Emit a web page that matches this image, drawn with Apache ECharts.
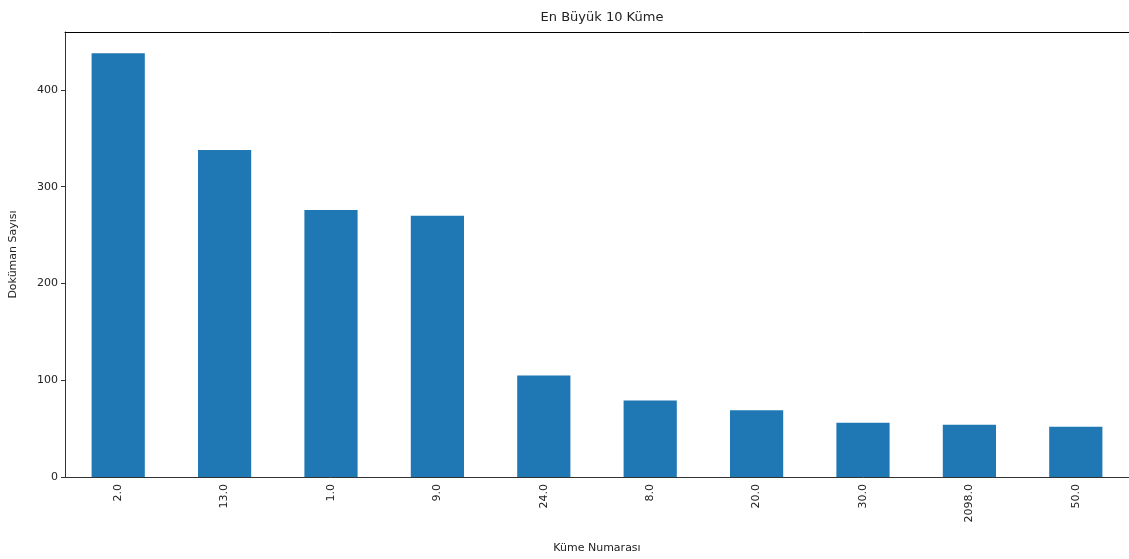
<!DOCTYPE html>
<html>
<head>
<meta charset="utf-8">
<script src="https://cdn.jsdelivr.net/npm/echarts@6/dist/echarts.min.js"></script>
<style>
  html, body { margin: 0; padding: 0; background: #fff; }
  #chart { width: 1129px; height: 559px; }
</style>
</head>
<body>
<div id="chart"></div>
<script>
// küme numaraları ve doküman sayıları
const kumeler = ['2.0', '13.0', '1.0', '9.0', '24.0', '8.0', '20.0', '30.0', '2098.0', '50.0']
const dokumanSayisi = [438, 338, 276, 270, 105, 79, 69, 56, 54, 52]
const yTicks = [0, 100, 200, 300, 400]

let chart = echarts.init(document.getElementById('chart'))
let option = {
    animation: false,
    textStyle: { fontFamily: 'DejaVu Sans' },
    title: {
        text: 'En Büyük 10 Küme',
        left: 597,
        textAlign: 'center',
        top: 6,
        textStyle: { fontSize: 13, fontWeight: 'normal', color: '#222' }
    },
    grid: {
        left: 63,
        top: 32,
        width: 1068,
        height: 450
    },
    xAxis: [
        {
            type: 'category',
            data: kumeler,
            name: 'Küme Numarası',
            nameLocation: 'middle',
            nameGap: 66,
            nameTextStyle: { fontSize: 11, color: '#222' },
            axisLine: { lineStyle: { color: '#333' } },
            axisTick: { alignWithLabel: true, length: 4, lineStyle: { color: '#333' } },
            axisLabel: { rotate: 90, margin: 7, fontSize: 11, color: '#222' },
            splitLine: { show: false }
        },
        {
            // üst çerçeve çizgisi
            type: 'category',
            data: kumeler,
            position: 'top',
            axisLine: { lineStyle: { color: '#000' } },
            axisTick: { show: false },
            axisLabel: { show: false },
            splitLine: { show: false }
        }
    ],
    yAxis: {
        type: 'value',
        min: 0,
        max: 459.9,
        interval: 100,
        name: 'Doküman Sayısı',
        nameLocation: 'middle',
        nameGap: 46,
        nameTextStyle: { fontSize: 11, color: '#222' },
        axisLine: { show: true, lineStyle: { color: '#333' } },
        axisTick: { show: true, length: 4, customValues: yTicks, lineStyle: { color: '#333' } },
        axisLabel: { fontSize: 11, margin: 7, color: '#222', customValues: yTicks },
        splitLine: { show: false }
    },
    series: [
        {
            type: 'bar',
            data: dokumanSayisi,
            barWidth: '50%',
            itemStyle: { color: '#1f77b4' }
        }
    ]
}
chart.setOption(option)
</script>
</body>
</html>
